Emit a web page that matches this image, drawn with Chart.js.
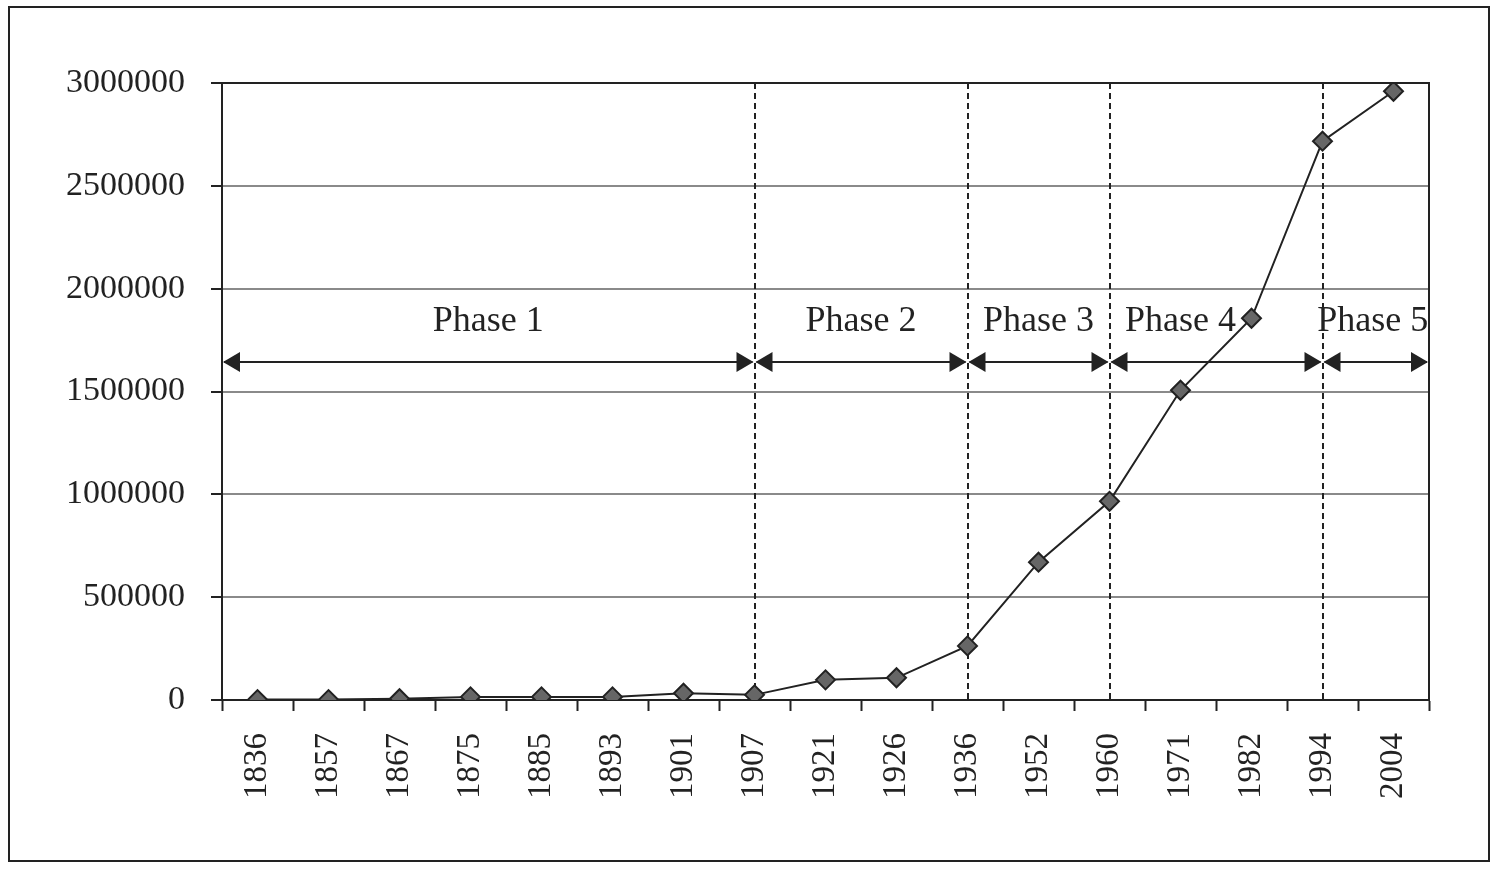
<!DOCTYPE html>
<html>
<head>
<meta charset="utf-8">
<script src="https://cdn.jsdelivr.net/npm/chart.js@4.4.1/dist/chart.umd.min.js"></script>
<style>
  html, body { margin: 0; padding: 0; background: #ffffff; }
  #wrap { width: 1500px; height: 874px; }
</style>
</head>
<body>
<div id="wrap"><canvas id="c" width="1500" height="874"></canvas></div>
<script>
// ---- data ----
const years = ['1836','1857','1867','1875','1885','1893','1901','1907','1921','1926','1936','1952','1960','1971','1982','1994','2004'];
const population = [2000, 2000, 6000, 15000, 15000, 15000, 33000, 25000, 98000, 108000, 263000, 670000, 966000, 1506000, 1856000, 2717000, 2960000];
const yTicks = [0, 500000, 1000000, 1500000, 2000000, 2500000, 3000000];
const phaseNames = ['Phase 1', 'Phase 2', 'Phase 3', 'Phase 4', 'Phase 5'];
const phaseStart = [null, '1907', '1936', '1960', '1994'];   // null = start of axis
const phaseEnd   = ['1907', '1936', '1960', '1994', null];   // null = end of axis
const phaseDividers = ['1907', '1936', '1960', '1994'];
const phaseArrowValue = 1643000;
const phaseLabelValue = 1838000;

// ---- styling ----
const INK = '#222222';
const GRID = '#8a8a8a';
const FONT = '"Liberation Serif", "Times New Roman", serif';

const phasePlugin = {
  id: 'phases',
  beforeDraw(chart) {
    const ctx = chart.ctx;
    ctx.save();
    ctx.fillStyle = '#ffffff';
    ctx.fillRect(0, 0, chart.width, chart.height);
    ctx.strokeStyle = INK;
    ctx.lineWidth = 2;
    ctx.strokeRect(9, 7, 1480, 854);
    ctx.restore();
  },
  beforeDatasetsDraw(chart) {
    const ctx = chart.ctx;
    const xs = chart.scales.x, ys = chart.scales.y;
    const a = chart.chartArea;
    ctx.save();
    // plot frame
    ctx.strokeStyle = INK;
    ctx.lineWidth = 2;
    ctx.strokeRect(a.left, a.top, a.right - a.left, a.bottom - a.top);
    // dashed dividers
    ctx.setLineDash([6, 4]);
    ctx.lineWidth = 2;
    phaseDividers.forEach(y => {
      const px = Math.round(xs.getPixelForValue(years.indexOf(y)));
      ctx.beginPath();
      ctx.moveTo(px, a.top);
      ctx.lineTo(px, a.bottom);
      ctx.stroke();
    });
    ctx.setLineDash([]);
    // arrows
    const ay = Math.round(ys.getPixelForValue(phaseArrowValue));
    const ly = ys.getPixelForValue(phaseLabelValue);
    const headL = 17, headH = 10;
    const tri = (tipX, dir) => {
      ctx.beginPath();
      ctx.moveTo(tipX, ay);
      ctx.lineTo(tipX - dir * headL, ay - headH);
      ctx.lineTo(tipX - dir * headL, ay + headH);
      ctx.closePath();
      ctx.fill();
    };
    ctx.fillStyle = INK;
    ctx.font = '36px ' + FONT;
    ctx.textAlign = 'center';
    ctx.textBaseline = 'middle';
    phaseNames.forEach((name, i) => {
      const x0 = phaseStart[i] === null ? a.left : xs.getPixelForValue(years.indexOf(phaseStart[i]));
      const x1 = phaseEnd[i] === null ? a.right : xs.getPixelForValue(years.indexOf(phaseEnd[i]));
      ctx.beginPath();
      ctx.moveTo(x0 + 2, ay);
      ctx.lineTo(x1 - 2, ay);
      ctx.stroke();
      tri(x0 + 1, -1);
      tri(x1 - 1, 1);
      let cx = (x0 + x1) / 2;
      if (name === 'Phase 4') cx = xs.getPixelForValue(years.indexOf('1971'));
      if (name === 'Phase 5') cx -= 3;
      ctx.fillText(name, cx, ly);
    });
    ctx.restore();
  }
};

new Chart(document.getElementById('c'), {
  type: 'line',
  data: {
    labels: years,
    datasets: [{
      data: population,
      borderColor: INK,
      borderWidth: 2,
      backgroundColor: '#666666',
      pointStyle: 'rectRot',
      pointRadius: 9.5,
      pointBorderWidth: 2,
      pointBorderColor: INK,
      pointBackgroundColor: '#666666',
      tension: 0,
      fill: false
    }]
  },
  options: {
    responsive: false,
    animation: false,
    layout: { padding: { left: 0, top: 83, right: 71, bottom: 0 } },
    plugins: { legend: { display: false }, tooltip: { enabled: false }, title: { display: false } },
    scales: {
      x: {
        type: 'category',
        offset: true,
        grid: {
          offset: true,
          drawOnChartArea: false,
          drawTicks: true,
          tickLength: 11,
          tickWidth: 2,
          tickColor: INK
        },
        border: { display: true, color: INK, width: 2 },
        ticks: {
          color: INK,
          font: { family: FONT, size: 33 },
          minRotation: 90,
          maxRotation: 90,
          padding: 22,
          autoSkip: false
        },
        afterFit(s) { s.height = 174; }
      },
      y: {
        min: 0,
        max: 3000000,
        afterBuildTicks(s) { s.ticks = yTicks.map(v => ({ value: v })); },
        grid: {
          color: (c) => (c.tick && (c.tick.value === 0 || c.tick.value === 3000000)) ? INK : GRID,
          lineWidth: 2,
          tickLength: 11,
          tickWidth: 2,
          tickColor: INK
        },
        border: { display: true, color: INK, width: 2 },
        ticks: {
          color: INK,
          font: { family: FONT, size: 34 },
          padding: 26,
          callback: (v) => String(v)
        },
        afterFit(s) { s.width = 222; }
      }
    }
  },
  plugins: [phasePlugin]
});
</script>
</body>
</html>
